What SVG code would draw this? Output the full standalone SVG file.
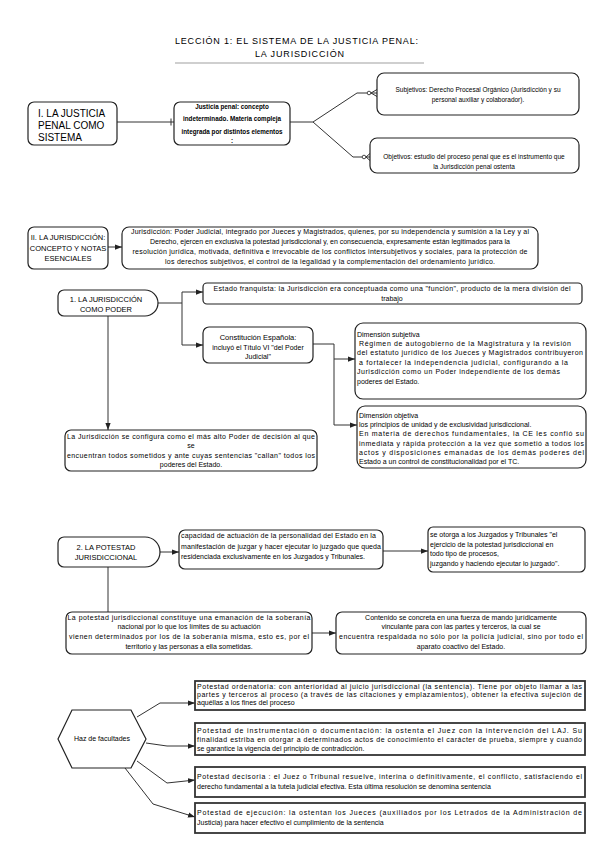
<svg xmlns="http://www.w3.org/2000/svg" width="600" height="848" viewBox="0 0 600 848">
<defs>
<marker id="arr" viewBox="0 0 8 6" refX="8" refY="3" markerWidth="7" markerHeight="5.5" orient="auto" markerUnits="userSpaceOnUse"><path d="M0,0 L8,3 L0,6 z" fill="#222"/></marker>
<style>
.box{fill:#fff;stroke:#222;stroke-width:1.2}
.sq{fill:#fff;stroke:#333;stroke-width:1.8}
.t{font-family:"Liberation Sans",Arial,sans-serif;font-size:7px;fill:#000}
.c{text-anchor:middle}
.b{font-weight:bold}
.s10{font-size:10px}
.s9{font-size:9px}
.s75{font-size:7.5px}
.s65{font-size:6.5px}
.s63{font-size:6.3px}
.conn{fill:none;stroke:#333;stroke-width:1}
</style>
</defs>
<rect width="600" height="848" fill="#fff"/>
<g id="title">
<text class="t s9" x="175" y="44" textLength="243" lengthAdjust="spacing">LECCIÓN 1: EL SISTEMA DE LA JUSTICIA PENAL:</text>
<text class="t s9" x="255" y="57" textLength="89" lengthAdjust="spacing">LA JURISDICCIÓN</text>
<rect x="175" y="62" width="249" height="2" fill="#cfcfcf"/>
</g>
<g id="connectors">
<path class="conn" d="M117,122 H174 M171,118.5 V125.5"/>
<path class="conn" d="M290,122 H313 L357,93 H367 M313,122 L353,157 H362"/>
<circle cx="369" cy="93" r="1.8" fill="#fff" stroke="#333" stroke-width="0.9"/>
<path class="conn" d="M371,93 L377,89.5 M371,93 H377 M371,93 L377,96.5"/>
<circle cx="364" cy="157" r="1.8" fill="#fff" stroke="#333" stroke-width="0.9"/>
<path class="conn" d="M366,157 L370,153.5 M366,157 H370 M366,157 L370,160.5"/>
<path class="conn" d="M108,247 H122" marker-end="url(#arr)"/>
<path class="conn" d="M158,303 H182 V292 H203" marker-end="url(#arr)"/>
<path class="conn" d="M182,303 V345 H203" marker-end="url(#arr)"/>
<path class="conn" d="M108,316 V430" marker-end="url(#arr)"/>
<path class="conn" d="M313,344 H334 V425 H357" marker-end="url(#arr)"/>
<path class="conn" d="M334,359 H355" marker-end="url(#arr)"/>
<path class="conn" d="M158,552 H179" marker-end="url(#arr)"/>
<path class="conn" d="M383,551 H428" marker-end="url(#arr)"/>
<path class="conn" d="M108,567 V612"/>
<path class="conn" d="M312,633 H336" marker-end="url(#arr)"/>
<path class="conn" d="M137,717 L160,703 H195" marker-end="url(#arr)"/>
<path class="conn" d="M146,743 L167,746 H195" marker-end="url(#arr)"/>
<path class="conn" d="M137,761 L167,783 L195,780" marker-end="url(#arr)"/>
<path class="conn" d="M125,768 L153,804 L195,817" marker-end="url(#arr)"/>
</g>
<g id="n-sistema">
<rect class="box" x="28" y="102" width="89" height="43" rx="6"/>
<text class="t s10" x="38" y="117">I. LA JUSTICIA</text>
<text class="t s10" x="38" y="129">PENAL COMO</text>
<text class="t s10" x="38" y="141">SISTEMA</text>
</g>
<g id="n-justicia">
<rect class="box" x="174" y="102" width="116" height="43" rx="6"/>
<text class="t c b s63" x="232" y="108.5">Justicia penal: concepto</text>
<text class="t c b s63" x="232" y="121">indeterminado. Materia compleja</text>
<text class="t c b s63" x="232" y="134">integrada por distintos elementos</text>
<text class="t c b s63" x="232" y="143">:</text>
</g>
<g id="n-subjetivos">
<rect class="box" x="377" y="73" width="202" height="42" rx="7"/>
<text class="t c s65" x="478" y="92">Subjetivos: Derecho Procesal Orgánico (Jurisdicción y su</text>
<text class="t c s65" x="478" y="102">personal auxiliar y colaborador).</text>
</g>
<g id="n-objetivos">
<rect class="box" x="370" y="138" width="209" height="35" rx="7"/>
<text class="t c s65" x="474" y="159">Objetivos: estudio del proceso penal que es el instrumento que</text>
<text class="t c s65" x="474" y="168.5">la Jurisdicción penal ostenta</text>
</g>
<g id="n-jur-title">
<rect class="box" x="28" y="227" width="80" height="42" rx="6"/>
<text class="t c s75" x="68" y="240">II. LA JURISDICCIÓN:</text>
<text class="t c s75" x="68" y="251">CONCEPTO Y NOTAS</text>
<text class="t c s75" x="68" y="261">ESENCIALES</text>
</g>
<g id="n-jur-def">
<rect class="box" x="122" y="227" width="416" height="42" rx="7"/>
<text class="t c" x="330" y="234" textLength="398" lengthAdjust="spacing">Jurisdicción: Poder Judicial, integrado por Jueces y Magistrados, quienes, por su independencia y sumisión a la Ley y al</text>
<text class="t c" x="330" y="244" textLength="360" lengthAdjust="spacing">Derecho, ejercen en exclusiva la potestad jurisdiccional y, en consecuencia, expresamente están legitimados para la</text>
<text class="t c" x="330" y="254" textLength="395" lengthAdjust="spacing">resolución jurídica, motivada, definitiva e irrevocable de los conflictos intersubjetivos y sociales, para la protección de</text>
<text class="t c" x="330" y="264" textLength="330" lengthAdjust="spacing">los derechos subjetivos, el control de la legalidad y la complementación del ordenamiento jurídico.</text>
</g>
<g id="n-poder">
<path class="box" d="M64,290 H145 A13,13 0 0 1 145,316 H64 A6,6 0 0 1 58,310 V296 A6,6 0 0 1 64,290 Z"/>
<text class="t c s75" x="106" y="302">1. LA JURISDICCIÓN</text>
<text class="t c s75" x="106" y="312">COMO PODER</text>
</g>
<g id="n-franquista">
<rect class="box" x="203" y="283" width="379" height="21" rx="4"/>
<text class="t c" x="392" y="291" textLength="357" lengthAdjust="spacing">Estado franquista: la Jurisdicción era conceptuada como una "función", producto de la mera división del</text>
<text class="t c" x="392" y="300.5">trabajo</text>
</g>
<g id="n-constitucion">
<rect class="box" x="203" y="327" width="110" height="36" rx="6"/>
<text class="t c s75" x="258" y="340">Constitución Española:</text>
<text class="t c" x="258" y="349.5">incluyó el Título VI "del Poder</text>
<text class="t c" x="258" y="358.5">Judicial"</text>
</g>
<g id="n-subjetiva">
<rect class="box" x="355" y="323" width="231" height="76" rx="8"/>
<text class="t" x="357" y="337">Dimensión subjetiva</text>
<text class="t" x="359" y="346" textLength="212" lengthAdjust="spacing">Régimen de autogobierno de la Magistratura y la revisión</text>
<text class="t" x="357" y="355" textLength="226" lengthAdjust="spacing">del estatuto jurídico de los Jueces y Magistrados contribuyeron</text>
<text class="t" x="359" y="364.5" textLength="209" lengthAdjust="spacing">a fortalecer la independencia judicial, configurando a la</text>
<text class="t" x="357" y="373.5" textLength="203" lengthAdjust="spacing">Jurisdicción como un Poder independiente de los demás</text>
<text class="t" x="357" y="384">poderes del Estado.</text>
</g>
<g id="n-objetiva">
<rect class="box" x="357" y="406" width="229" height="62" rx="8"/>
<text class="t" x="359" y="418">Dimensión objetiva</text>
<text class="t" x="359" y="427">los principios de unidad y de exclusividad jurisdiccional.</text>
<text class="t" x="359" y="436" textLength="225" lengthAdjust="spacing">En materia de derechos fundamentales, la CE les confió su</text>
<text class="t" x="359" y="445.5" textLength="225" lengthAdjust="spacing">inmediata y rápida protección a la vez que sometió a todos los</text>
<text class="t" x="359" y="455" textLength="225" lengthAdjust="spacing">actos y disposiciones emanadas de los demás poderes del</text>
<text class="t" x="359" y="464">Estado a un control de constitucionalidad por el TC.</text>
</g>
<g id="n-configura">
<rect class="box" x="65" y="430" width="252" height="41" rx="6"/>
<text class="t" x="67" y="439" textLength="248" lengthAdjust="spacing">La Jurisdicción se configura como el más alto Poder de decisión al que</text>
<text class="t c" x="191" y="448">se</text>
<text class="t" x="67" y="458" textLength="248" lengthAdjust="spacing">encuentran todos sometidos y ante cuyas sentencias "callan" todos los</text>
<text class="t c" x="191" y="467">poderes del Estado.</text>
</g>
<g id="n-potestad">
<path class="box" d="M64,537 H145 A15,15 0 0 1 145,567 H64 A6,6 0 0 1 58,561 V543 A6,6 0 0 1 64,537 Z"/>
<text class="t c s75" x="106" y="549.5">2. LA POTESTAD</text>
<text class="t c s75" x="106" y="560">JURISDICCIONAL</text>
</g>
<g id="n-capacidad">
<rect class="box" x="179" y="530" width="204" height="39" rx="6"/>
<text class="t" x="181" y="538" textLength="195" lengthAdjust="spacing">capacidad de actuación de la personalidad del Estado en la</text>
<text class="t" x="181" y="548.5" textLength="200" lengthAdjust="spacing">manifestación de juzgar y hacer ejecutar lo juzgado que queda</text>
<text class="t" x="181" y="559">residenciada exclusivamente en los Juzgados y Tribunales.</text>
</g>
<g id="n-otorga">
<rect class="box" x="428" y="527" width="157" height="45" rx="5" stroke-width="2"/>
<text class="t" x="430" y="536.5">se otorga a los Juzgados y Tribunales "el</text>
<text class="t" x="430" y="546.5">ejercicio de la potestad jurisdiccional en</text>
<text class="t" x="430" y="556">todo tipo de procesos,</text>
<text class="t" x="430" y="566">juzgando y haciendo ejecutar lo juzgado".</text>
</g>
<g id="n-soberania">
<rect class="box" x="66" y="612" width="246" height="42" rx="6"/>
<text class="t c" x="189" y="619.5" textLength="243" lengthAdjust="spacing">La potestad jurisdiccional constituye una emanación de la soberanía</text>
<text class="t c" x="189" y="629">nacional por lo que los límites de su actuación</text>
<text class="t c" x="189" y="639" textLength="240" lengthAdjust="spacing">vienen determinados por los de la soberanía misma, esto es, por el</text>
<text class="t c" x="189" y="648.5">territorio y las personas a ella sometidas.</text>
</g>
<g id="n-contenido">
<rect class="box" x="336" y="612" width="250" height="42" rx="6"/>
<text class="t c" x="461" y="619.5">Contenido se concreta en una fuerza de mando jurídicamente</text>
<text class="t c" x="461" y="629">vinculante para con las partes y terceros, la cual se</text>
<text class="t c" x="461" y="639" textLength="244" lengthAdjust="spacing">encuentra respaldada no sólo por la policía judicial, sino por todo el</text>
<text class="t c" x="461" y="648.5">aparato coactivo del Estado.</text>
</g>
<g id="n-haz">
<polygon class="box" points="72,710 131,710 146,739 131,768 72,768 58,739"/>
<text class="t c" x="102" y="741">Haz de facultades</text>
</g>
<g id="n-ordenatoria">
<rect class="sq" x="195" y="681" width="390" height="29"/>
<text class="t" x="197" y="688.5" textLength="385" lengthAdjust="spacing">Potestad ordenatoria: con anterioridad al juicio jurisdiccional (la sentencia). Tiene por objeto llamar a las</text>
<text class="t" x="197" y="696.5" textLength="385" lengthAdjust="spacing">partes y terceros al proceso (a través de las citaciones y emplazamientos), obtener la efectiva sujeción de</text>
<text class="t" x="197" y="704.5">aquéllas a los fines del proceso</text>
</g>
<g id="n-instrumentacion">
<rect class="sq" x="195" y="723" width="390" height="32"/>
<text class="t" x="197" y="732.5" textLength="385" lengthAdjust="spacing">Potestad de instrumentación o documentación: la ostenta el Juez con la intervención del LAJ. Su</text>
<text class="t" x="197" y="741.5" textLength="385" lengthAdjust="spacing">finalidad estriba en otorgar a determinados actos de conocimiento el carácter de prueba, siempre y cuando</text>
<text class="t" x="197" y="750.5">se garantice la vigencia del principio de contradicción.</text>
</g>
<g id="n-decisoria">
<rect class="sq" x="195" y="767" width="390" height="30"/>
<text class="t" x="197" y="778.5" textLength="385" lengthAdjust="spacing">Potestad decisoria : el Juez o Tribunal resuelve, interina o definitivamente, el conflicto, satisfaciendo el</text>
<text class="t" x="197" y="788.5">derecho fundamental a la tutela judicial efectiva. Esta última resolución se denomina sentencia</text>
</g>
<g id="n-ejecucion">
<rect class="sq" x="195" y="803" width="390" height="30"/>
<text class="t" x="197" y="814.5" textLength="385" lengthAdjust="spacing">Potestad de ejecución: la ostentan los Jueces (auxiliados por los Letrados de la Administración de</text>
<text class="t" x="197" y="825">Justicia) para hacer efectivo el cumplimiento de la sentencia</text>
</g>
</svg>
